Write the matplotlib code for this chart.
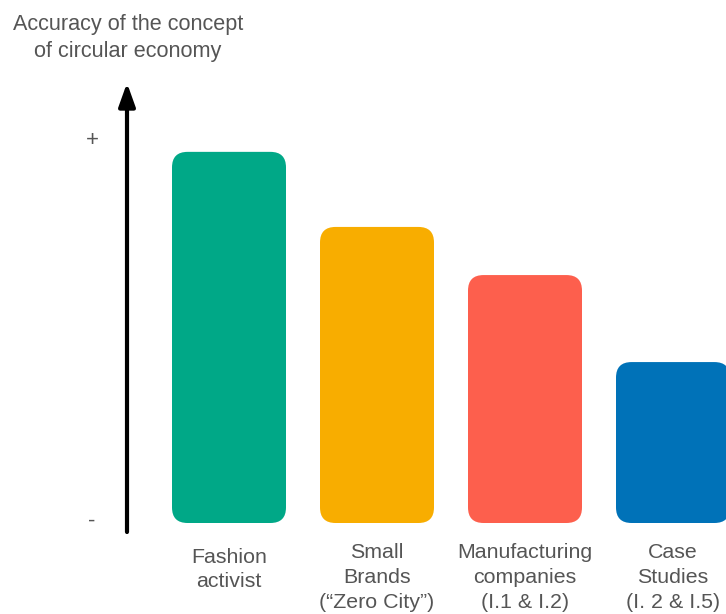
import matplotlib
matplotlib.use("Agg")
import matplotlib.pyplot as plt
from matplotlib.patches import FancyBboxPatch

categories = ["Fashion\nactivist", "Small\nBrands\n(\u201cZero City\u201d)",
              "Manufacturing\ncompanies\n(I.1 & I.2)", "Case\nStudies\n(I. 2 & I.5)"]
values = [9.64, 7.69, 6.44, 4.18]
colors = ["#00A887", "#F8AD00", "#FD5F4D", "#0072B8"]
y_title = "Accuracy of the concept\nof circular economy"

plt.rcParams['font.family'] = ['Liberation Sans', 'DejaVu Sans']
txt = "#555555"

fig = plt.figure(figsize=(7.26, 6.14), dpi=100)
ax = fig.add_axes([0, 0, 1, 1])
ax.set_xlim(-229/148, (726-229)/148)
ax.set_ylim(-91/38.5, (614-91)/38.5)
ax.axis("off")

w = 114/148
asp = 148/38.5
for i, (v, c) in enumerate(zip(values, colors)):
    p = FancyBboxPatch((i - w/2, 0), w, v,
                       boxstyle="round,pad=0,rounding_size=0.105",
                       mutation_aspect=asp, fc=c, ec="none")
    ax.add_patch(p)
    top = -0.52 if categories[i].count("\n") == 2 else -0.66
    ls = 1.4 if categories[i].count("\n") == 2 else 1.3
    ax.text(i, top, categories[i], ha="center", va="top", fontsize=15.4,
            color=txt, linespacing=ls)

ax_x = (127-229)/148
ax.annotate("", xy=(ax_x, 11.43), xytext=(ax_x, -0.234),
            arrowprops=dict(arrowstyle="-|>,head_length=1.4,head_width=0.5",
                            lw=3, color="black", shrinkA=0, shrinkB=0))
ax.text((92-229)/148, 9.93, "+", ha="center", va="center", fontsize=16, color=txt)
ax.text((92-229)/148, 0.05, "-", ha="center", va="center", fontsize=16, color=txt)
ax.text((128-229)/148, (614-38-91)/38.5, y_title, ha="center", va="center",
        fontsize=15.6, color=txt, linespacing=1.43)

fig.savefig("out.png", dpi=100)
